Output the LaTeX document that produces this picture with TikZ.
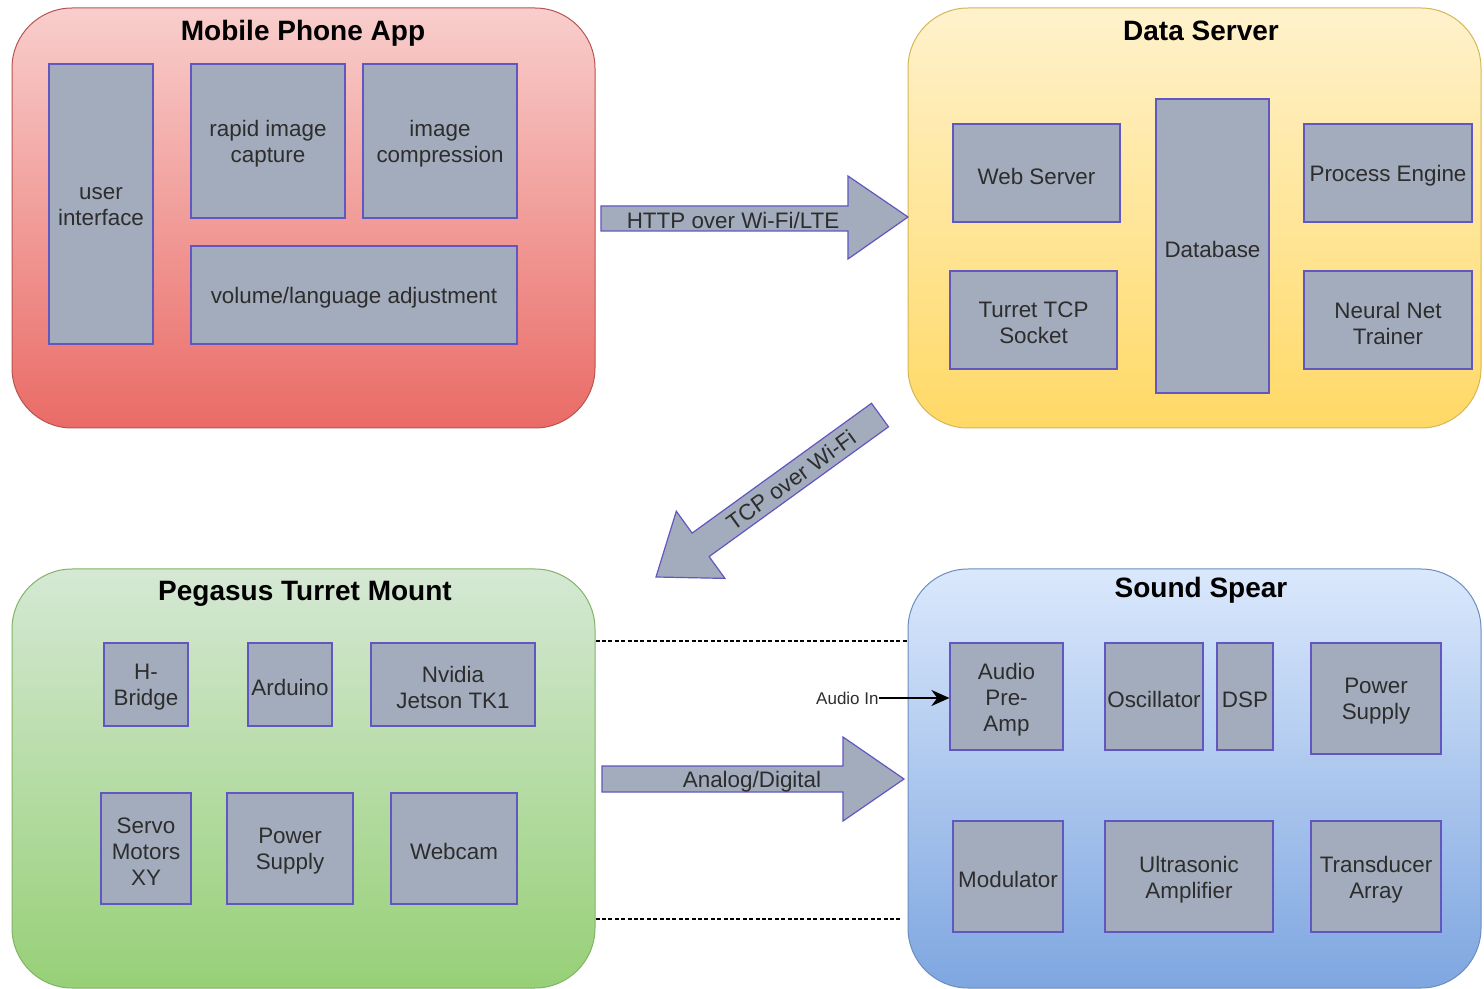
\documentclass[tikz,border=0pt]{standalone}
\usepackage{fontspec}
\setmainfont{Liberation Sans}
\usetikzlibrary{arrows.meta}

% block and arrow colours
\definecolor{blkfill}{RGB}{163,172,188}
\definecolor{blkline}{RGB}{98,86,192}
\definecolor{txt}{RGB}{45,45,45}
% container gradients
\definecolor{redtop}{RGB}{248,206,204}
\definecolor{redbot}{RGB}{234,107,102}
\definecolor{redline}{RGB}{184,84,80}
\definecolor{yeltop}{RGB}{255,242,204}
\definecolor{yelbot}{RGB}{255,217,102}
\definecolor{yelline}{RGB}{214,182,86}
\definecolor{grntop}{RGB}{213,232,212}
\definecolor{grnbot}{RGB}{151,208,119}
\definecolor{grnline}{RGB}{130,179,102}
\definecolor{blutop}{RGB}{218,232,252}
\definecolor{blubot}{RGB}{126,166,224}
\definecolor{bluline}{RGB}{108,142,191}

\tikzset{
  blk/.style={draw=blkline, fill=blkfill, line width=0.6pt, inner sep=0pt},
  blktext/.style={align=center, text=txt, inner sep=0pt, font=\fontsize{11.2}{13}\selectfont},
  grp/.style={rounded corners=30pt, line width=0.5pt, inner sep=0pt},
  ttl/.style={font=\fontsize{14}{16}\selectfont\bfseries, text=black, inner sep=0pt,
    text height=10pt, text depth=3pt, yshift=-1.5pt},
  bigarrow/.style={draw=blkline, fill=blkfill, line width=0.6pt, line join=miter},
  arrtext/.style={font=\fontsize{11.2}{13}\selectfont, text=txt, inner sep=0pt},
  dashline/.style={draw=black, line width=0.55pt, dash pattern=on 2pt off 1.2pt},
}

% \blk{name}{x1}{y1}{x2}{y2}{text}: a component box given by its corners,
% with its label set slightly below the geometric centre
\newcommand\blk[6]{\node[blk, minimum width={(#4-#2)*0.5pt}, minimum height={(#5-#3)*0.5pt}]
  (#1) at ({(#2+#4)/2},{(#3+#5)/2}) {};
  \node[blktext] (#1-t) at ([yshift=-1.5pt]#1.center) {#6};}
% \grp{name}{x1}{y1}{x2}{y2}{colour prefix}: a rounded subsystem container
\newcommand\grp[6]{\node[grp, top color=#6top, bottom color=#6bot, draw=#6line,
  minimum width={(#4-#2)*0.5pt}, minimum height={(#5-#3)*0.5pt}]
  (#1) at ({(#2+#4)/2},{(#3+#5)/2}) {};}

\begin{document}
\begin{tikzpicture}[x=0.5pt, y=-0.5pt]
\useasboundingbox[fill=white] (0,0) rectangle (1484,989);

% subsystem containers
\grp{app}{12}{8}{595}{428}{red}
\grp{srv}{908}{8}{1481}{428}{yel}
\grp{tur}{12}{569}{595}{988}{grn}
\grp{spr}{908}{569}{1481}{988}{blu}

\node[ttl] (app-t) at (303,31) {Mobile Phone App};
\node[ttl] (srv-t) at (1201,31) {Data Server};
\node[ttl] (tur-t) at (305,591) {Pegasus Turret Mount};
\node[ttl] (spr-t) at (1201,587) {Sound Spear};

% Mobile Phone App
\blk{ui}{49}{64}{153}{344}{user\\interface}
\blk{rapid}{191}{64}{345}{218}{rapid image\\capture}
\blk{compr}{363}{64}{517}{218}{image\\compression}
\blk{vol}{191}{246}{517}{344}{volume/language adjustment}

% Data Server
\blk{web}{953}{124}{1120}{222}{Web Server}
\blk{db}{1156}{99}{1269}{393}{Database}
\blk{proc}{1304}{124}{1472}{222}{Process Engine}
\blk{tcp}{950}{271}{1117}{369}{Turret TCP\\Socket}
\blk{nn}{1304}{271}{1472}{369}{Neural Net\\Trainer}

% Pegasus Turret Mount
\blk{hb}{104}{643}{188}{726}{H-\\Bridge}
\blk{ard}{248}{643}{332}{726}{Arduino}
\blk{jet}{371}{643}{535}{726}{Nvidia\\Jetson TK1}
\blk{servo}{101}{793}{191}{904}{Servo\\Motors\\XY}
\blk{tps}{227}{793}{353}{904}{Power\\Supply}
\blk{cam}{391}{793}{517}{904}{Webcam}

% Sound Spear
\blk{pre}{950}{643}{1063}{750}{Audio\\Pre-\\Amp}
\blk{osc}{1105}{643}{1203}{750}{Oscillator}
\blk{dsp}{1217}{643}{1273}{750}{DSP}
\blk{sps}{1311}{643}{1441}{754}{Power\\Supply}
\blk{mod}{953}{821}{1063}{932}{Modulator}
\blk{uamp}{1105}{821}{1273}{932}{Ultrasonic\\Amplifier}
\blk{tarr}{1311}{821}{1441}{932}{Transducer\\Array}

% link: app -> server
\draw[bigarrow] (601,206) -- (848,206) -- (848,176) -- (908,217) -- (848,259)
  -- (848,231) -- (601,231) -- cycle;
\node[arrtext] (http) at (733,220) {HTTP over Wi-Fi/LTE};

% link: server -> turret
\draw[bigarrow] (871.5,403.3) -- (888.5,426.8) -- (709.1,556.6) -- (724.9,578.4)
  -- (656,577) -- (676.3,511.2) -- (692.1,533.1) -- cycle;
\node[arrtext, rotate=35.9] (tcpl) at (791,480) {TCP over Wi-Fi};

% link: turret -> sound spear
\draw[bigarrow] (602,766) -- (843,766) -- (843,737) -- (904,779) -- (843,821)
  -- (843,792) -- (602,792) -- cycle;
\node[arrtext] (ad) at (752,782) {Analog/Digital};

% dashed bounds between turret and sound spear
\draw[dashline] (tur.east |- 0,641) -- (spr.west |- 0,641);
\draw[dashline] (tur.east |- 0,919) -- (902,919);

% audio input
\node[font=\fontsize{8.5}{10}\selectfont, text=txt, inner sep=0pt, anchor=east] (ain) at (879,698) {Audio In};
\draw[line width=1pt, -{Stealth[length=9pt, width=8pt]}] (ain.east) -- (ain.east -| pre.west);

\end{tikzpicture}
\end{document}
